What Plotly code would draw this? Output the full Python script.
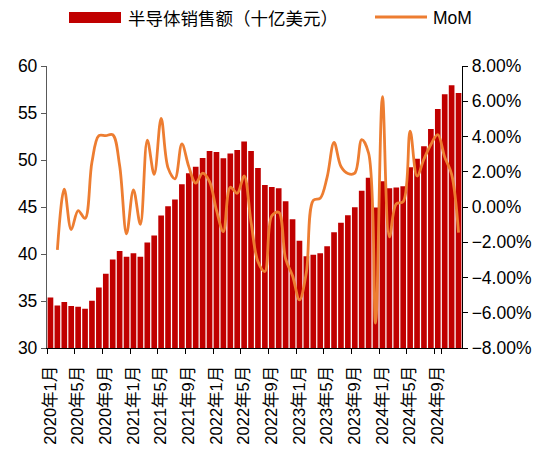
import plotly.graph_objects as go

years = [2020, 2021, 2022, 2023, 2024]
months = [f"{y}年{m}月" for y in years for m in range(1, 13)]

sales = [35.38, 34.53, 34.89, 34.46, 34.39, 34.18, 35.03, 36.44, 37.90, 39.42, 40.31, 39.70,
         40.09, 39.70, 41.22, 41.97, 44.09, 45.09, 45.80, 47.43, 48.60, 49.27, 50.22, 50.97,
         50.86, 50.19, 50.68, 51.07, 51.96, 50.97, 49.15, 47.35, 47.12, 47.00, 45.60, 43.70,
         41.40, 39.77, 39.91, 40.09, 40.83, 42.32, 43.32, 44.13, 44.98, 46.72, 48.10, 44.94,
         47.75, 47.00, 47.07, 47.21, 49.23, 50.12, 51.47, 53.30, 55.43, 56.99, 57.95, 57.13]

mom = [None, -2.43, 1.01, -1.28, -0.20, -0.65, 2.55, 4.05, 4.05, 4.10, 2.35, -1.52,
       0.97, -0.98, 3.80, 1.85, 5.03, 2.22, 1.60, 3.58, 2.29, 1.35, 1.92, 1.44,
       -0.18, -1.39, 1.12, 0.78, 1.76, -0.85, -3.10, -3.66, -0.50, -0.30, -2.95, -3.90,
       -5.27, -3.70, 0.38, 0.50, 1.70, 3.67, 2.30, 1.90, 1.92, 3.82, 3.05, -6.59,
       6.26, -1.70, 0.18, 0.30, 4.30, 1.76, 2.72, 3.55, 4.10, 2.83, 1.85, -1.45]
mom = [None if v is None else v / 100 for v in mom]

tick_labels = months[::4]

bar_name = "半导体销售额（十亿美元）"
line_name = "MoM"

BAR_COLOR = "#C00000"
LINE_COLOR = "#ED7D31"
FONT = "Liberation Sans, Arial, Noto Sans CJK SC"

fig = go.Figure()
fig.add_trace(go.Bar(x=months, y=sales, name=bar_name, marker=dict(color=BAR_COLOR, line=dict(width=0)),
                     showlegend=False))
fig.add_trace(go.Scatter(x=months, y=mom, name=line_name, yaxis="y2", mode="lines",
                         line=dict(color=LINE_COLOR, width=2.8, shape="spline", smoothing=1.0),
                         connectgaps=False, showlegend=False))

# manual legend (paper coordinates)
L, R, T, B = 47, 462, 66, 348
def px(x):
    return (x - L) / (R - L)
def py(y):
    return (B - y) / (B - T)

fig.add_shape(type="rect", xref="paper", yref="paper", x0=px(69), x1=px(121), y0=py(23), y1=py(12),
              fillcolor=BAR_COLOR, line=dict(width=0))
fig.add_shape(type="line", xref="paper", yref="paper", x0=px(375), x1=px(427), y0=py(17), y1=py(17),
              line=dict(color=LINE_COLOR, width=2.8))
fig.add_annotation(xref="paper", yref="paper", x=px(126), y=py(17.5), text=bar_name, showarrow=False,
                   xanchor="left", yanchor="middle",
                   font=dict(family="Noto Sans CJK SC", size=17.5, color="#000"))
fig.add_annotation(xref="paper", yref="paper", x=px(431), y=py(17.5), text=line_name, showarrow=False,
                   xanchor="left", yanchor="middle",
                   font=dict(family="Liberation Sans, Arial", size=17.5, color="#000"))

fig.update_layout(
    width=537, height=452,
    margin=dict(l=L, r=537 - R, t=T, b=452 - B, pad=0),
    paper_bgcolor="white", plot_bgcolor="white",
    bargap=0.18,
    font=dict(family=FONT, size=17, color="#000"),
    xaxis=dict(type="category", tickmode="array", tickvals=tick_labels, ticktext=tick_labels,
               tickangle=-90, tickson="boundaries", ticks="outside", ticklen=5, tickcolor="#000",
               showline=True, linecolor="#000", linewidth=1.3, showgrid=False, zeroline=False,
               tickfont=dict(family=FONT, size=16.5), ticklabelstandoff=10, automargin=False),
    yaxis=dict(range=[30, 60], dtick=5, ticks="outside", ticklen=5, tickcolor="#595959",
               showline=True, linecolor="#595959", linewidth=1.3, showgrid=False, zeroline=False,
               tickfont=dict(family=FONT, size=17.5), automargin=False),
    yaxis2=dict(range=[-0.08, 0.08], dtick=0.02, tickformat=".2%", overlaying="y", side="right",
                ticks="outside", ticklen=5, tickcolor="#000", showline=True, linecolor="#000",
                linewidth=1.3, showgrid=False, zeroline=False,
                tickfont=dict(family=FONT, size=17.5), automargin=False),
)

fig.write_html("out.html", config={"displayModeBar": False},
               post_script="document.body.style.margin='0';document.body.style.overflow='hidden';")
